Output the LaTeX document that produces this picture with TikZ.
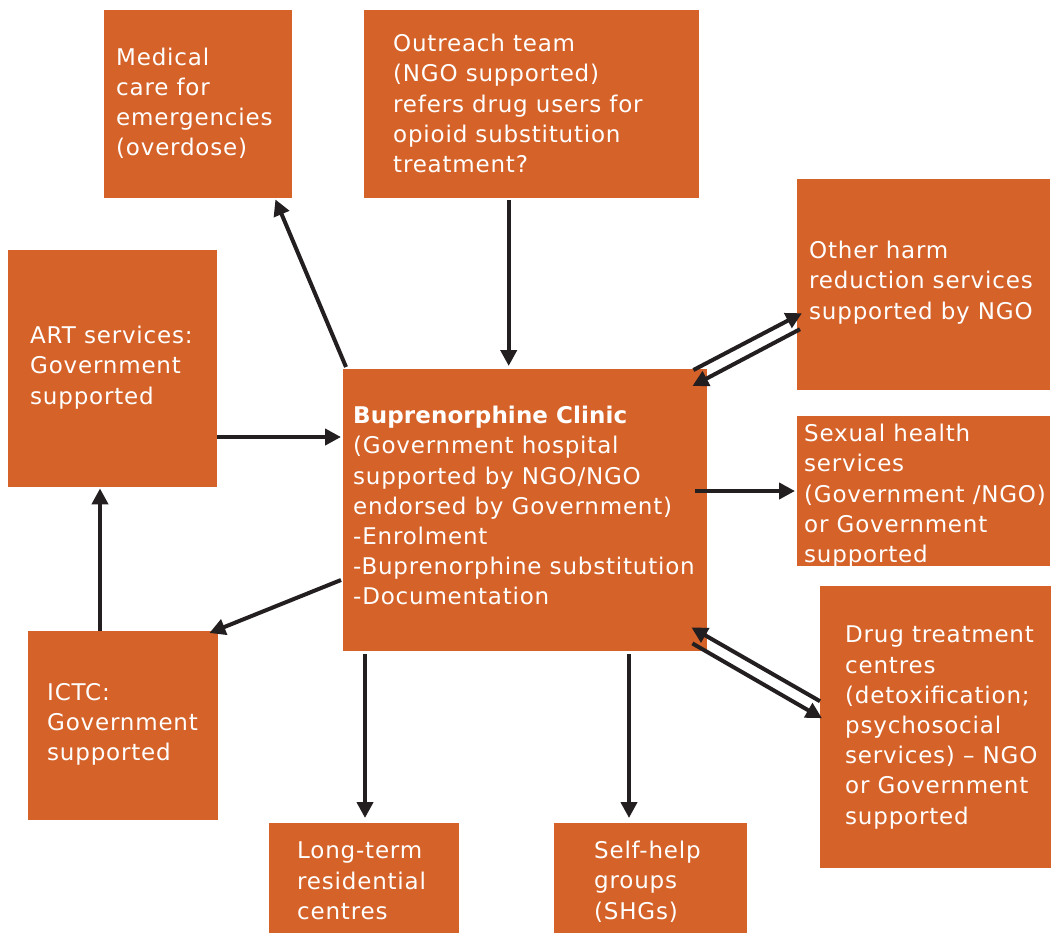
\documentclass[tikz,border=0pt]{standalone}
\usepackage{fontspec}
\setmainfont{DejaVu Sans}[LetterSpace=3.5, BoldFeatures={LetterSpace=0.5}]
\usetikzlibrary{arrows.meta,calc}
\definecolor{boxorange}{RGB}{212,98,41}
\definecolor{arrowdark}{RGB}{35,31,32}
\begin{document}
\begin{tikzpicture}[x=1pt,y=-1pt,
  box/.style={fill=boxorange, draw=none, rectangle, anchor=north west, inner sep=0pt},
  txt/.style={text=white, align=left, anchor=north west, inner sep=0pt,
    font=\fontsize{23}{30.2}\selectfont},
  conn/.style={draw=arrowdark, line width=4pt, -{Triangle[length=16pt,width=16pt]}}]
\useasboundingbox (0,0) rectangle (1051,935);
% boxes
\node[box, minimum width=188pt, minimum height=188pt] (med) at (104,10) {};
\node[box, minimum width=335pt, minimum height=188pt] (out) at (364,10) {};
\node[box, minimum width=253pt, minimum height=211pt] (harm) at (797,179) {};
\node[box, minimum width=209pt, minimum height=237pt] (art) at (8,250) {};
\node[box, minimum width=364pt, minimum height=282pt] (clinic) at (343,369) {};
\node[box, minimum width=253pt, minimum height=150pt] (sex) at (797,416) {};
\node[box, minimum width=190pt, minimum height=189pt] (ictc) at (28,631) {};
\node[box, minimum width=231pt, minimum height=282pt] (drug) at (820,586) {};
\node[box, minimum width=190pt, minimum height=110pt] (long) at (269,823) {};
\node[box, minimum width=193pt, minimum height=110pt] (shg) at (554,823) {};
% texts
\node[txt] (medt) at (116,47.5) {Medical\\care for\\emergencies\\(overdose)};
\node[txt] (outt) at (393,34) {Outreach team\\(NGO supported)\\refers drug users for\\opioid substitution\\treatment?};
\node[txt] (harmt) at (809,241) {Other harm\\reduction services\\supported by NGO};
\node[txt] (artt) at (30,326) {ART services:\\Government\\supported};
\node[txt] (clinict) at (353,406) {\textbf{Buprenorphine Clinic}\\(Government hospital\\supported by NGO/NGO\\endorsed by Government)\\-Enrolment\\-Buprenorphine substitution\\-Documentation};
\node[txt] (sext) at (804,424) {Sexual health\\services\\(Government /NGO)\\or Government\\supported};
\node[txt] (ictct) at (47,683) {ICTC:\\Government\\supported};
\node[txt] (drugt) at (845,626) {Drug treatment\\centres\\(detoxification;\\psychosocial\\services) -- NGO\\or Government\\supported};
\node[txt] (longt) at (297,842) {Long-term\\residential\\centres};
\node[txt] (shgt) at (594,841) {Self-help\\groups\\(SHGs)};
% connectors
\draw[conn] ($(clinic.north west)+(3,-2)$) -- ($(med.south east)+(-17,1)$);
\draw[conn] ($(out.south)+(-23,2)$) coordinate (o1) -- ($(o1 |- clinic.north)+(0,-3)$);
\draw[conn] ($(art.north east)+(0,187)$) coordinate (a1) -- ($(a1 -| clinic.west)+(-2,0)$);
\draw[conn] ($(ictc.north west)+(72,0)$) coordinate (i1) -- ($(i1 |- art.south)+(0,1)$);
\draw[conn] ($(clinic.north west)+(-2,211)$) -- ($(ictc.north east)+(-9,2)$);
\draw[conn] ($(clinic.south west)+(22,3)$) coordinate (l1) -- ($(l1 |- long.north)+(0,-5)$);
\draw[conn] ($(clinic.south west)+(286,3)$) coordinate (s1) -- ($(s1 |- shg.north)+(0,-5)$);
\draw[conn] ($(clinic.north east)+(-12,122)$) coordinate (x1) -- ($(x1 -| sex.west)+(-2,0)$);
\draw[conn] ($(clinic.north east)+(-14,1)$) -- ($(harm.west)+(5,28.5)$);
\draw[conn] ($(harm.west)+(3,44.5)$) -- ($(clinic.north east)+(-15,17)$);
\draw[conn] ($(drug.west)+(0,-26)$) -- ($(clinic.south east)+(-16,-24)$);
\draw[conn] ($(clinic.south east)+(-15,-8)$) -- ($(drug.west)+(2,-9)$);
\end{tikzpicture}
\end{document}
